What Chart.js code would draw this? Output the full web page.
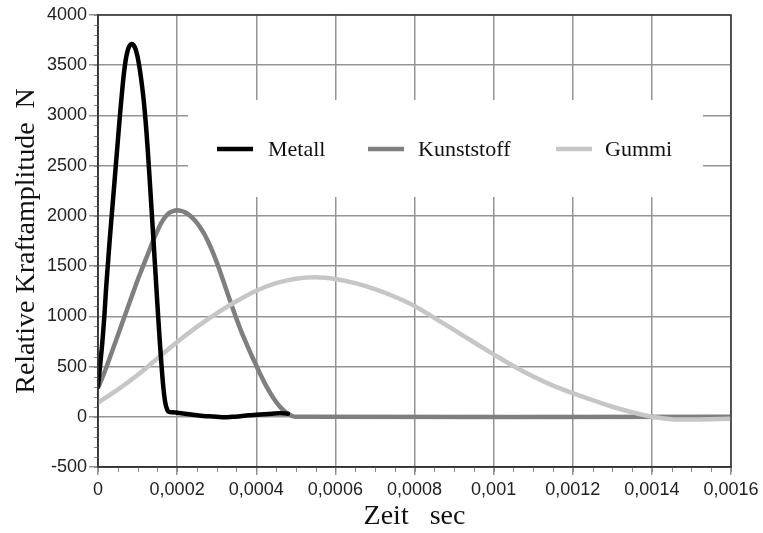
<!DOCTYPE html>
<html>
<head>
<meta charset="utf-8">
<script src="https://cdn.jsdelivr.net/npm/chart.js@4.4.0/dist/chart.umd.min.js"></script>
<style>
  html, body { margin: 0; padding: 0; background: #fff; }
  #wrap { width: 763px; height: 533px; }
</style>
</head>
<body>
<div id="wrap"><canvas id="kraft"></canvas></div>
<script>
// Zeit in Mikrosekunden, Kraft in N
const metallZeit = [0, 10, 16, 20, 25, 30, 35, 40, 45, 50, 55, 60, 65, 70, 75, 80, 85, 90, 95, 100,
    105, 110, 115, 120, 125, 130, 135, 140, 145, 150, 155, 160, 165, 170, 175, 180, 190, 200,
    220, 240, 260, 280, 300, 320, 340, 360, 380, 400, 420, 440, 460, 480];
const metallKraft = [300, 700, 1000, 1250, 1520, 1780, 2020, 2260, 2500, 2740, 2980, 3200, 3400, 3550, 3645, 3695, 3712, 3700, 3660, 3585,
    3475, 3335, 3170, 2960, 2700, 2400, 2090, 1770, 1450, 1130, 820, 540, 300, 140, 70, 48, 45, 40,
    30, 20, 10, 5, 0, -5, 0, 5, 15, 20, 25, 30, 35, 30];

const kunstZeit = [0, 10, 20, 30, 40, 50, 60, 70, 80, 90, 100, 110, 120, 130, 140, 150, 160, 170, 180, 190,
    200, 210, 220, 230, 240, 250, 260, 270, 280, 290, 300, 310, 320, 330, 340, 350, 360, 370, 380, 390,
    400, 410, 420, 430, 440, 450, 460, 470, 480, 490, 500, 1600];
const kunstKraft = [290, 380, 480, 590, 700, 810, 920, 1030, 1140, 1250, 1360, 1460, 1560, 1660, 1760, 1850, 1930, 1990, 2030, 2048,
    2055, 2050, 2035, 2010, 1975, 1930, 1875, 1810, 1730, 1640, 1540, 1430, 1315, 1200, 1085, 975, 870, 775, 685, 595,
    510, 425, 345, 272, 207, 150, 100, 60, 30, 10, 0, 0];

const gummiZeit = [0, 50, 100, 150, 200, 250, 300, 350, 400, 450, 500, 550, 600, 650, 700, 750, 800, 850, 900, 950,
    1000, 1050, 1100, 1150, 1200, 1250, 1300, 1350, 1400, 1450, 1500, 1550, 1600];
const gummiKraft = [140, 270, 415, 580, 745, 895, 1030, 1150, 1255, 1330, 1375, 1390, 1372, 1330, 1270, 1195, 1103, 985, 865, 742,
    622, 505, 400, 310, 235, 165, 100, 45, 0, -25, -28, -25, -20];

const xTickLabels = ['0', '0,0002', '0,0004', '0,0006', '0,0008', '0,001', '0,0012', '0,0014', '0,0016'];
const yTickLabels = ['-500', '0', '500', '1000', '1500', '2000', '2500', '3000', '3500', '4000'];

function punkte(zeit, kraft) {
    return zeit.map((t, i) => ({ x: t / 1e6, y: kraft[i] }));
}

const serif = "'Liberation Serif', 'Times New Roman', serif";
const sans = "'Liberation Sans', Arial, sans-serif";

// Legende im Diagramm, weisser Kasten ueber dem Gitter
const legendePlugin = {
    id: 'legende',
    beforeDatasetsDraw(chart) {
        const ctx = chart.ctx;
        ctx.save();
        ctx.fillStyle = '#fff';
        ctx.fillRect(188, 100, 515, 97);
        const pos = [[217, 268], [368, 418], [556, 605]];
        chart.data.datasets.forEach((ds, i) => {
            ctx.strokeStyle = ds.borderColor;
            ctx.lineWidth = 4.5;
            ctx.beginPath();
            ctx.moveTo(pos[i][0], 149);
            ctx.lineTo(pos[i][0] + 36, 149);
            ctx.stroke();
            ctx.fillStyle = '#111';
            ctx.font = '22px ' + serif;
            ctx.textBaseline = 'middle';
            ctx.fillText(ds.label, pos[i][1], 150);
        });
        ctx.restore();
    },
    afterDraw(chart) {
        const ctx = chart.ctx;
        const a = chart.chartArea;
        const xs = chart.scales.x, ys = chart.scales.y;
        ctx.save();
        // kleine Striche
        ctx.strokeStyle = '#888';
        ctx.lineWidth = 1;
        for (let v = -500; v <= 4000; v += 100) {
            const y = Math.round(ys.getPixelForValue(v)) + 0.5;
            ctx.beginPath(); ctx.moveTo(a.left - 4, y); ctx.lineTo(a.left, y); ctx.stroke();
        }
        for (let v = 0; v <= 1600; v += 50) {
            const x = Math.round(xs.getPixelForValue(v / 1e6)) + 0.5;
            ctx.beginPath(); ctx.moveTo(x, a.bottom); ctx.lineTo(x, a.bottom + 5); ctx.stroke();
        }
        // Rahmen
        ctx.strokeStyle = '#333';
        ctx.lineWidth = 1.5;
        ctx.strokeRect(a.left, a.top, a.right - a.left, a.bottom - a.top);
        ctx.restore();
    }
};

new Chart(document.getElementById('kraft'), {
    type: 'line',
    data: {
        datasets: [
            { label: 'Metall', data: punkte(metallZeit, metallKraft), borderColor: '#000000', borderWidth: 4.5, order: 0 },
            { label: 'Kunststoff', data: punkte(kunstZeit, kunstKraft), borderColor: '#7f7f7f', borderWidth: 4.5, order: 2 },
            { label: 'Gummi', data: punkte(gummiZeit, gummiKraft), borderColor: '#c6c6c6', borderWidth: 4.5, order: 1 }
        ]
    },
    options: {
        responsive: true,
        maintainAspectRatio: false,
        animation: false,
        devicePixelRatio: 1,
        layout: { padding: { top: 15, right: 32, left: 0, bottom: 0 } },
        elements: {
            point: { radius: 0 },
            line: { tension: 0.3, borderCapStyle: 'round', borderJoinStyle: 'round', fill: false }
        },
        plugins: {
            legend: { display: false },
            tooltip: { enabled: false }
        },
        scales: {
            x: {
                type: 'linear',
                min: 0,
                max: 0.0016,
                afterFit: (s) => { s.height = 66; },
                ticks: {
                    stepSize: 0.0002,
                    autoSkip: false,
                    maxRotation: 0,
                    padding: 4,
                    color: '#222',
                    font: { family: sans, size: 18 },
                    callback: (v, i) => xTickLabels[i]
                },
                grid: { color: '#949494', lineWidth: 1.5, tickLength: 8 },
                border: { color: '#333', width: 1.5 },
                title: {
                    display: true,
                    text: 'Zeit   sec',
                    color: '#111',
                    font: { family: serif, size: 28, lineHeight: 1 },
                    padding: { top: 0, bottom: 2 }
                }
            },
            y: {
                min: -500,
                max: 4000,
                afterFit: (s) => { s.width = 98; },
                ticks: {
                    stepSize: 500,
                    padding: 2,
                    color: '#222',
                    font: { family: sans, size: 18 },
                    callback: (v, i) => yTickLabels[i]
                },
                grid: { color: '#949494', lineWidth: 1.5, tickLength: 9 },
                border: { color: '#333', width: 1.5 },
                title: {
                    display: true,
                    text: 'Relative Kraftamplitude  N',
                    color: '#111',
                    font: { family: serif, size: 28, lineHeight: 1 },
                    padding: { top: 13, bottom: 0 }
                }
            }
        }
    },
    plugins: [legendePlugin]
});
</script>
</body>
</html>
